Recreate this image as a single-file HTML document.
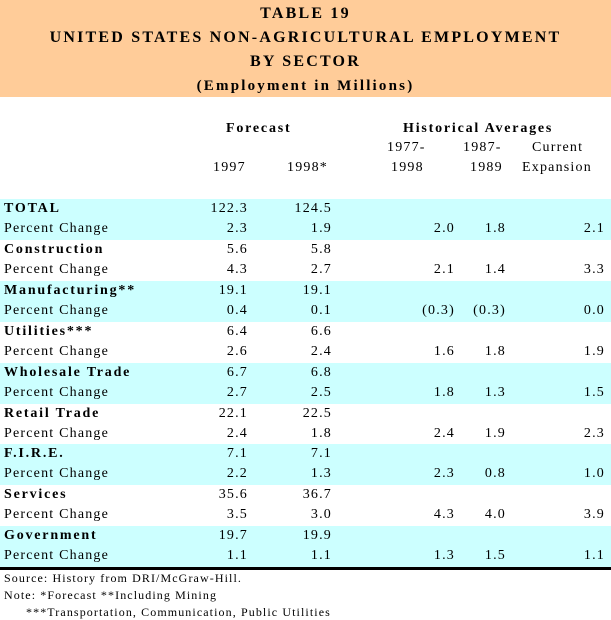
<!DOCTYPE html>
<html><head><style>
body{margin:0;width:611px;height:620px;background:#fff;position:relative;overflow:hidden;font-family:"Liberation Serif",serif;color:#000}
.hd{position:absolute;left:0;top:0;width:611px;height:97px;background:#FFCC99}
.t{position:absolute;left:0;width:611px;text-align:center;font-weight:bold;font-size:16px;letter-spacing:2.2px;line-height:20px}
.a{position:absolute;font-size:14px;line-height:18px;letter-spacing:1.2px;white-space:nowrap}
.r{text-align:right}
.b{font-weight:bold;letter-spacing:1.8px}
.band{position:absolute;left:0;width:611px;height:41px;background:#CCFFFF}
.f{position:absolute;left:4px;font-size:12px;letter-spacing:1.1px;white-space:nowrap;line-height:14px}
</style></head><body>
<div class="hd"></div>
<div class="t" style="top:4px">TABLE 19</div>
<div class="t" style="top:28px">UNITED STATES NON-AGRICULTURAL EMPLOYMENT</div>
<div class="t" style="top:52px">BY SECTOR</div>
<div class="t" style="top:76px;font-size:15px">(Employment in Millions)</div>
<div class="a b" style="left:226px;top:120px">Forecast</div>
<div class="a b" style="left:403px;top:120px">Historical Averages</div>
<div class="a" style="left:387px;top:139px">1977-</div>
<div class="a" style="left:463px;top:139px">1987-</div>
<div class="a" style="left:532px;top:139px">Current</div>
<div class="a" style="left:213px;top:159px">1997</div>
<div class="a" style="left:287px;top:159px">1998*</div>
<div class="a" style="left:391px;top:159px">1998</div>
<div class="a" style="left:470px;top:159px">1989</div>
<div class="a" style="left:522px;top:159px">Expansion</div>
<div id="rows"></div>
<div style="position:absolute;left:0;top:567px;width:611px;height:3px;background:#000"></div>
<div class="f" style="top:571px">Source:  History from DRI/McGraw-Hill.</div>
<div class="f" style="top:588px">Note:   *Forecast  **Including Mining</div>
<div class="f" style="top:605px;left:26px">***Transportation, Communication, Public Utilities</div>
<script>
var d=[["TOTAL","122.3","124.5","2.3","1.9","2.0","1.8","2.1"],
["Construction","5.6","5.8","4.3","2.7","2.1","1.4","3.3"],
["Manufacturing**","19.1","19.1","0.4","0.1","(0.3)","(0.3)","0.0"],
["Utilities***","6.4","6.6","2.6","2.4","1.6","1.8","1.9"],
["Wholesale Trade","6.7","6.8","2.7","2.5","1.8","1.3","1.5"],
["Retail Trade","22.1","22.5","2.4","1.8","2.4","1.9","2.3"],
["F.I.R.E.","7.1","7.1","2.2","1.3","2.3","0.8","1.0"],
["Services","35.6","36.7","3.5","3.0","4.3","4.0","3.9"],
["Government","19.7","19.9","1.1","1.1","1.3","1.5","1.1"]];
var h="";
d.forEach(function(r,i){var y=199+i*40.9;
if(i%2==0)h+='<div class="band" style="top:'+y+'px"></div>';
var y1=y+1,y2=y+21;
h+='<div class="a b" style="left:4px;top:'+y1+'px">'+r[0]+'</div>';
h+='<div class="a r" style="right:363px;top:'+y1+'px">'+r[1]+'</div>';
h+='<div class="a r" style="right:279px;top:'+y1+'px">'+r[2]+'</div>';
h+='<div class="a" style="left:4px;top:'+y2+'px">Percent Change</div>';
var R=[363,279,156,105,6];
for(var k=0;k<5;k++)h+='<div class="a r" style="right:'+R[k]+'px;top:'+y2+'px">'+r[3+k]+'</div>';
});
document.getElementById("rows").innerHTML=h;
</script>
</body></html>
